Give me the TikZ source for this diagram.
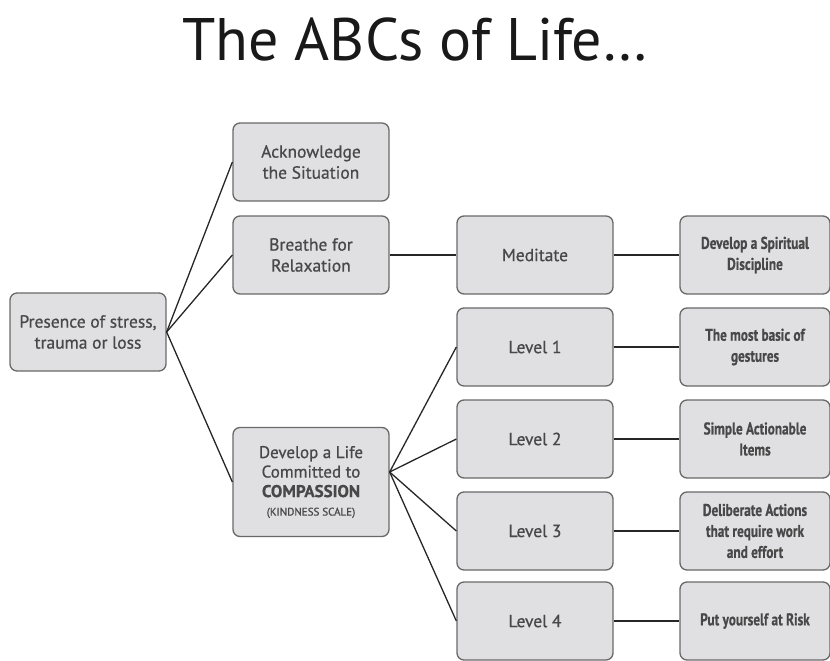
\documentclass[tikz,border=0pt]{standalone}
\usepackage{fontspec}
\setmainfont{PT Sans}
\newfontfamily\boxfont[FakeBold=0.7]{PT Sans}
\newfontfamily\narrowfont[FakeStretch=0.78,FakeBold=0.6]{PT Sans}
\usetikzlibrary{positioning}
\definecolor{boxfill}{RGB}{224,224,226}
\definecolor{boxline}{RGB}{105,105,105}
\definecolor{boxtext}{RGB}{72,72,72}
\def\boxW{156pt}
\def\boxH{78pt}

\begin{document}
\begin{tikzpicture}[
    x=1pt, y=-1pt,
    box/.style={draw=boxline, fill=boxfill, line width=1.3pt, rounded corners=7pt,
        minimum width=\boxW, minimum height=\boxH, align=center, text=boxtext,
        font=\boxfont\fontsize{17.5}{21}\selectfont},
    tipbox/.style={box, minimum width=150pt,
        font=\narrowfont\bfseries\fontsize{17}{21}\selectfont},
    link/.style={draw=black!85, line width=1.3pt}
]
\useasboundingbox (0,0) rectangle (830,661);
\node[font=\fontsize{60}{60}\selectfont, text=black!90] (title) at (415,40) {The ABCs of Life…};

% left and middle column
\node[box] (pres) at (88,332) {Presence of stress,\\trauma or loss};
\node[box] (ack) at (311,162) {Acknowledge\\the Situation};
\node[box] (br) at (311,255) {Breathe for\\Relaxation};
\node[box, minimum height=109pt, font=\boxfont\fontsize{17}{19.5}\selectfont] (dev) at (311,482)
    {Develop a Life\\Committed to\\\textbf{COMPASSION}\\[-1pt]{\fontsize{11}{12}\selectfont(KINDNESS SCALE)}};

% levels
\node[box] (med) at (535,255) {Meditate};
\foreach \i/\y in {1/347, 2/439, 3/531, 4/621}
    \node[box] (lv\i) at (535,\y) {Level \i};

% right column
\node[tipbox] (sp) at (755,255) {Develop a Spiritual\\Discipline};
\node[tipbox] (t1) at (755,347) {The most basic of\\gestures};
\node[tipbox] (t2) at (755,439) {Simple Actionable\\Items};
\node[tipbox] (t3) at (755,531) {Deliberate Actions\\that require work\\and effort};
\node[tipbox] (t4) at (755,621) {Put yourself at Risk};

% connectors
\draw[link] (pres.east) -- (ack.west);
\draw[link] (pres.east) -- (br.west);
\draw[link] (pres.east) -- (dev.west);
\draw[link] (br) -- (med);
\draw[link] (med) -- (sp);
\foreach \i in {1,...,4} {
    \draw[link] ([yshift=10pt]dev.east) -- (lv\i.west);
    \draw[link] (lv\i) -- (t\i);
}
\end{tikzpicture}
\end{document}
